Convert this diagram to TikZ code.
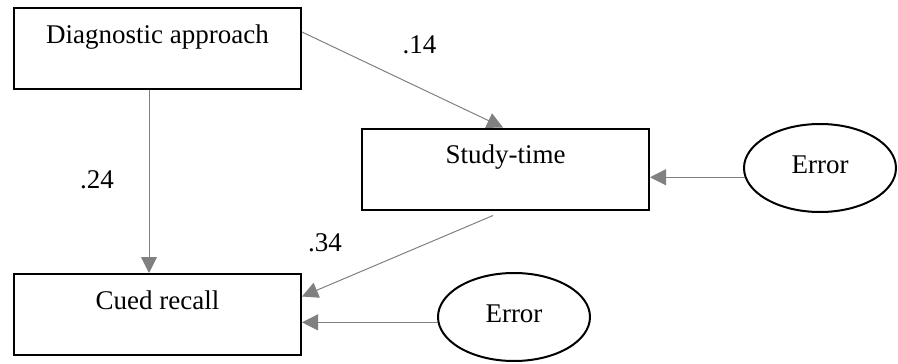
\documentclass[tikz,border=0pt]{standalone}
\usepackage{fontspec}
\setmainfont{Liberation Serif}
\usetikzlibrary{arrows.meta,shapes.geometric}
\definecolor{arrgray}{RGB}{128,128,128}
\begin{document}
\begin{tikzpicture}[x=1pt,y=-1pt,
  every node/.style={font=\fontsize{27}{32}\selectfont},
  boxnode/.style={draw=black,line width=2pt,inner sep=0pt,minimum width=287pt,minimum height=81pt,text height=35pt,text depth=46pt,anchor=center},
  errnode/.style={draw=black,line width=2pt,ellipse,inner sep=0pt,minimum width=152pt,minimum height=88pt,text height=20pt,text depth=10pt},
  lbl/.style={inner sep=0pt},
  arr/.style={draw=arrgray,line width=1pt,-{Triangle[length=16pt,width=16pt,fill=arrgray]}}
]
\useasboundingbox (0,0) rectangle (898,364);
\node[boxnode] (diag) at (157.5,48.5) {Diagnostic approach};
\node[boxnode] (study) at (505.5,169) {Study-time};
\node[boxnode] (cued) at (157.5,314.5) {Cued recall};
\node[errnode] (err1) at (820,168) {Error};
\node[errnode] (err2) at (514,317) {Error};
\node[lbl] (l14) at (419.5,45) {.14};
\node[lbl] (l24) at (97,180) {.24};
\node[lbl] (l34) at (325,243) {.34};
\draw[arr] ([yshift=16.5pt]diag.east) -- ([xshift=-2.5pt]study.north);
\draw[arr] ([xshift=-8.5pt]diag.south) -- ([xshift=-8.5pt]cued.north);
\draw[arr] ([xshift=-12.5pt,yshift=-5pt]study.south) -- ([yshift=18pt]cued.east);
\draw[arr] (err1.187) -- (err1.187 -| study.east);
\draw[arr] (err2.184) -- (err2.184 -| cued.east);
\end{tikzpicture}
\end{document}
